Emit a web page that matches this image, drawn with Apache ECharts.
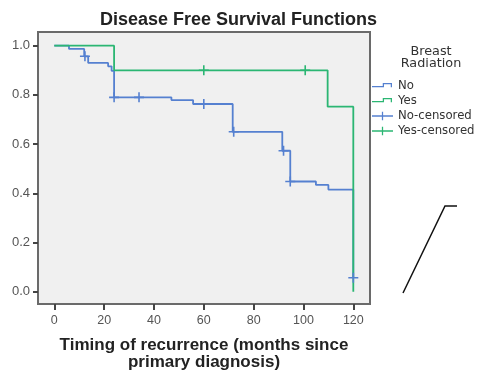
<!DOCTYPE html>
<html><head><meta charset="utf-8">
<script src="https://cdn.jsdelivr.net/npm/echarts@6/dist/echarts.min.js"></script>
<style>html,body{margin:0;padding:0;background:#fff}#c{width:480px;height:371px}</style>
</head><body><div id="c"></div>
<script>
// ---- data ----
const xTickValues = [0, 20, 40, 60, 80, 100, 120];
const yTickValues = [0, 0.2, 0.4, 0.6, 0.8, 1.0];

const noTimes    = [0, 5.9, 12, 13.6, 21.6, 23, 24, 47, 55.7, 71.6, 91.5, 94.7, 105, 110, 120];
const noSurvival = [1.0, 0.987, 0.957, 0.93, 0.916, 0.898, 0.79, 0.779, 0.763, 0.65, 0.573, 0.448, 0.434, 0.415, 0.057];
const noCensorTimes    = [12.3, 24, 34, 60, 72, 92, 94.7, 120];
const noCensorSurvival = [0.957, 0.79, 0.79, 0.763, 0.65, 0.573, 0.448, 0.057];

const yesTimes    = [0, 24, 109.7, 120];
const yesSurvival = [1.0, 0.90, 0.752, 0.0];
const yesCensorTimes    = [60, 100.7];
const yesCensorSurvival = [0.90, 0.90];

const legendNames = ['No', 'Yes', 'No-censored', 'Yes-censored'];

// ---- styling ----
const BLUE = '#5580d0';
const GREEN = '#2bb673';
const AXIS = '#6a6a6a';
const zip = (a, b) => a.map((v, i) => [v, b[i]]);

const plusPath = 'path://M4.2,0h1.6v4.2h4.2v1.6h-4.2v4.2h-1.6v-4.2h-4.2v-1.6h4.2z';
const pulseIcon = 'path://M0,0h0.01v0.01h-0.01z M24.99,9.99h0.01v0.01h-0.01z M0,5h14.3v1.5h-14.3z M12.8,1.5h1.5v5h-1.5z M12.8,1.5h11v1.5h-11z M22.3,1.5h1.5v5h-1.5z';
const censorIcon = 'path://M0,4.25h25v1.5h-25z M11.75,0h1.5v10h-1.5z';

const chart = echarts.init(document.getElementById('c'), null, {renderer: 'canvas'});
chart.setOption({
  animation: false,
  backgroundColor: '#fff',
  title: [{
    text: 'Disease Free Survival Functions',
    left: 95, top: 6,
    textStyle: {fontFamily: 'Liberation Sans, Arial', fontSize: 18, fontWeight: 'bold', color: '#222'}
  }, {
    text: 'Breast\nRadiation',
    left: 426, top: 40, textAlign: 'center',
    textStyle: {fontFamily: 'DejaVu Sans', fontSize: 12.8, fontWeight: 'normal', color: '#333', lineHeight: 12.5}
  }],
  legend: {
    orient: 'vertical',
    left: 372, top: 78.5, padding: 0,
    itemWidth: 21, itemHeight: 10, itemGap: 0,
    textStyle: {fontFamily: 'DejaVu Sans', fontSize: 11.7, color: '#333', lineHeight: 15},
    data: [
      {name: legendNames[0], icon: pulseIcon},
      {name: legendNames[1], icon: pulseIcon},
      {name: legendNames[2], icon: censorIcon},
      {name: legendNames[3], icon: censorIcon}
    ]
  },
  grid: {
    left: 38, right: 110, top: 32, bottom: 67,
    outerBoundsMode: 'none', containLabel: false,
    show: true, backgroundColor: '#f0f0f0', borderColor: AXIS, borderWidth: 2
  },
  xAxis: {
    type: 'value', min: -6.54, max: 126.7,
    name: 'Timing of recurrence (months since\nprimary diagnosis)',
    nameLocation: 'middle', nameGap: 33,
    nameTextStyle: {fontFamily: 'Liberation Sans, Arial', fontSize: 17, fontWeight: 'bold', color: '#222', lineHeight: 16.6},
    axisLine: {show: true, onZero: false, lineStyle: {color: AXIS, width: 2}},
    splitLine: {show: false},
    axisTick: {show: true, inside: false, length: 6, customValues: xTickValues, lineStyle: {color: '#444', width: 2}},
    axisLabel: {customValues: xTickValues, margin: 10, fontFamily: 'Liberation Sans, Arial', fontSize: 12.5, color: '#555'}
  },
  yAxis: {
    type: 'value', min: -0.05, max: 1.0557,
    axisLine: {show: true, onZero: false, lineStyle: {color: AXIS, width: 2}},
    splitLine: {show: false},
    axisTick: {show: true, inside: false, length: 5, customValues: yTickValues, lineStyle: {color: '#444', width: 2}},
    axisLabel: {customValues: yTickValues, margin: 8, fontFamily: 'Liberation Sans, Arial', fontSize: 13, color: '#555',
      formatter: v => v.toFixed(1)}
  },
  series: [
    {name: legendNames[0], type: 'line', step: 'end', data: zip(noTimes, noSurvival), showSymbol: false, symbol: 'none',
      color: BLUE, lineStyle: {color: BLUE, width: 1.8}, z: 2},
    {name: legendNames[1], type: 'line', step: 'end', data: zip(yesTimes, yesSurvival), showSymbol: false, symbol: 'none',
      color: GREEN, lineStyle: {color: GREEN, width: 1.8}, z: 3},
    {name: legendNames[2], type: 'scatter', data: zip(noCensorTimes, noCensorSurvival), symbol: plusPath, symbolSize: [10, 10],
      color: BLUE, itemStyle: {color: BLUE, opacity: 1}, z: 4},
    {name: legendNames[3], type: 'scatter', data: zip(yesCensorTimes, yesCensorSurvival), symbol: plusPath, symbolSize: [10, 10],
      color: GREEN, itemStyle: {color: GREEN, opacity: 1}, z: 5}
  ],
  graphic: [{
    type: 'polyline', silent: true,
    shape: {points: [[403, 293], [445, 206], [457, 206]]},
    style: {stroke: '#111', lineWidth: 1.5, fill: null}
  }]
});
</script>
</body></html>
